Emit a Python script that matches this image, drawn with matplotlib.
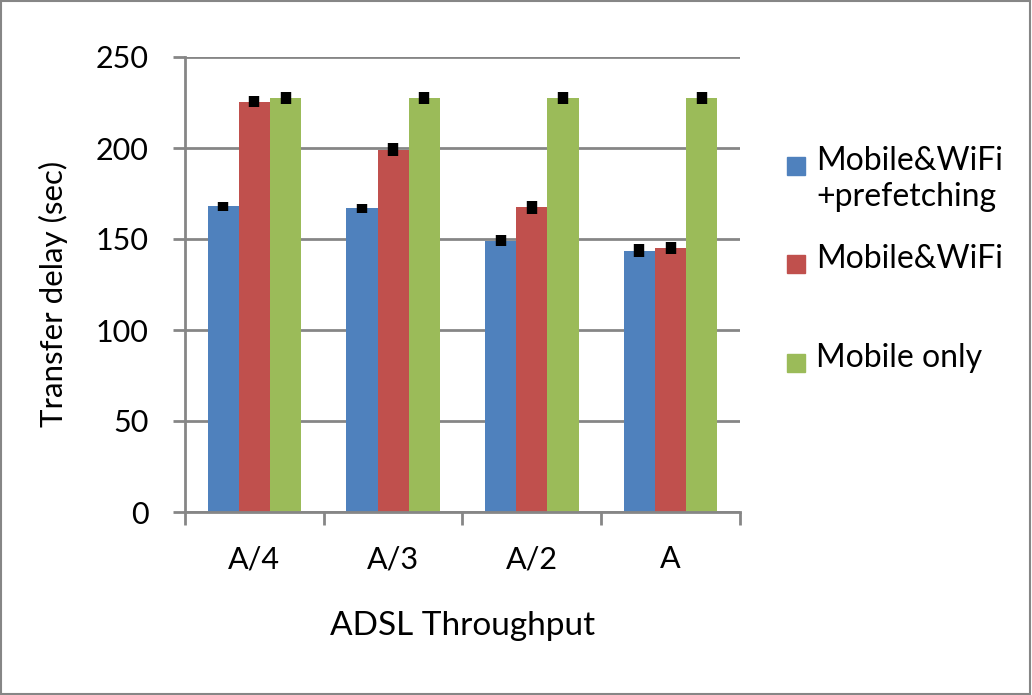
import numpy as np
import matplotlib.pyplot as plt
from matplotlib.patches import Rectangle

plt.rcParams['font.family'] = ['Lato', 'DejaVu Sans']

# Données
categories = ['A/4', 'A/3', 'A/2', 'A']
series_names = ['Mobile&WiFi\n+prefetching', 'Mobile&WiFi', 'Mobile only']
prefetch = [168, 167, 149, 143.5]
wifi = [225.5, 199, 167.5, 145]
mobile = [227.5, 227.5, 227.5, 227.5]
prefetch_err = [2.5, 2.5, 3, 3.5]
wifi_err = [3, 3.5, 3.5, 3.5]
mobile_err = [3.5, 3.5, 3.5, 3.5]
y_ticks = [0, 50, 100, 150, 200, 250]

colors = ['#4f81bd', '#c0504d', '#9bbb59']
grid_col = '#868686'
fs = 22

fig = plt.figure(figsize=(10.32, 6.95), dpi=100)
ax = fig.add_axes([185/1032, 1 - 512/695, 555/1032, 455/695])

x = np.arange(len(categories))
w = 0.225
all_vals = [prefetch, wifi, mobile]
all_errs = [prefetch_err, wifi_err, mobile_err]
for i, (vals, errs) in enumerate(zip(all_vals, all_errs)):
    pos = x + (i - 1) * w
    ax.bar(pos, vals, width=w, color=colors[i], zorder=2)
    ax.errorbar(pos, vals, yerr=errs, fmt='none', ecolor='black',
                elinewidth=7.5, capsize=0, zorder=3)

ax.set_xlim(-0.5, len(categories) - 0.5)
ax.set_ylim(0, 250)
ax.set_yticks(y_ticks)
ax.set_xticks(x)
ax.set_xticklabels(categories)
ax.set_xticks(np.arange(-0.5, len(categories)), minor=True)

ax.yaxis.grid(True, color=grid_col, linewidth=2, zorder=0)
ax.set_axisbelow(True)
for s in ['top', 'right']:
    ax.spines[s].set_visible(False)
for s in ['left', 'bottom']:
    ax.spines[s].set_color(grid_col)
    ax.spines[s].set_linewidth(2)

ax.tick_params(axis='y', length=9, width=2, color=grid_col, labelsize=fs, pad=17)
ax.tick_params(axis='x', which='major', length=0, labelsize=fs, pad=24)
ax.tick_params(axis='x', which='minor', length=9, width=2, color=grid_col)

ax.set_ylabel('Transfer delay (sec)', fontsize=22.5)
ax.yaxis.set_label_coords(-0.21, 0.48)
ax.set_xlabel('ADSL Throughput', fontsize=24, labelpad=27)

# Légende dessinée à la main
leg_y = [166, 264, 363]
for i, name in enumerate(series_names):
    fig.add_artist(Rectangle((787/1032, 1 - (leg_y[i] + 9)/695), 18/1032, 18/695,
                             transform=fig.transFigure, color=colors[i]))
    fig.text(816/1032, 1 - (leg_y[i] - 20)/695, name, fontsize=23,
             va='top', ha='left', linespacing=1.25)

# Cadre de la figure
fig.add_artist(Rectangle((0.001, 0.001), 0.997, 0.997, transform=fig.transFigure,
                         fill=False, edgecolor=grid_col, linewidth=1.5))

fig.savefig('out.png', dpi=100)
